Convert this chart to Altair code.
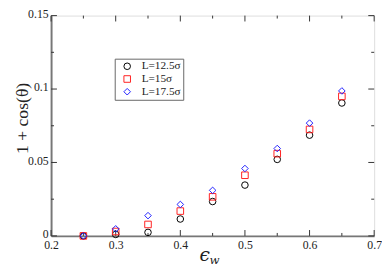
import altair as alt
import pandas as pd

# data
eps_w = [0.25, 0.30, 0.35, 0.40, 0.45, 0.50, 0.55, 0.60, 0.65]
L_12_5 = [0.0, 0.0010, 0.0024, 0.0115, 0.0234, 0.0346, 0.0521, 0.0686, 0.0905]
L_15 = [0.0, 0.0030, 0.0078, 0.0169, 0.0266, 0.0413, 0.0560, 0.0725, 0.0950]
L_17_5 = [0.0, 0.0048, 0.0138, 0.0214, 0.0310, 0.0459, 0.0595, 0.0768, 0.0987]
series_names = ["L=12.5σ", "L=15σ", "L=17.5σ"]

x_major = [0.2, 0.3, 0.4, 0.5, 0.6, 0.7]
x_minor = [0.25, 0.35, 0.45, 0.55, 0.65]
y_major = [0.0, 0.05, 0.10, 0.15]
y_minor = [0.025, 0.075, 0.125]

W, H = 330, 225
SERIF = "Liberation Serif"

rows = []
for name, vals in zip(series_names, [L_12_5, L_15, L_17_5]):
    for xv, yv in zip(eps_w, vals):
        rows.append({"eps": xv, "val": yv, "series": name})
df = pd.DataFrame(rows)

xscale = alt.Scale(domain=[0.2, 0.7], nice=False, zero=False)
yscale = alt.Scale(domain=[0.0, 0.15], nice=False, zero=False)

points = alt.Chart(df).mark_point(filled=False, strokeWidth=1, opacity=1).encode(
    x=alt.X("eps:Q", scale=xscale,
            axis=alt.Axis(values=x_major, ticks=False, grid=False, title=None,
                          format="~g", labelFont=SERIF, labelFontSize=12,
                          labelColor="#222", labelPadding=4, labelFlush=False,
                          domainColor="#777", domainWidth=2)),
    y=alt.Y("val:Q", scale=yscale,
            axis=alt.Axis(values=y_major, ticks=False, grid=False,
                          title="1 + cos(θ)", titleFont=SERIF, titleFontSize=18,
                          titleFontWeight="normal", titleColor="#222",
                          titlePadding=-4, titleY=H / 2 - 8, labelFlush=False,
                          labelOffset=-2,
                          format="~g", labelFont=SERIF, labelFontSize=12,
                          labelColor="#222", labelPadding=3,
                          domainColor="#777", domainWidth=2)),
    color=alt.Color("series:N", sort=series_names,
                    scale=alt.Scale(domain=series_names, range=["#000000", "#ff2020", "#2020ff"]),
                    legend=alt.Legend(title=None, orient="none", legendX=65, legendY=44,
                                      labelFont=SERIF, labelFontSize=11.5, labelColor="#222",
                                      strokeColor="#666", fillColor="white", padding=2,
                                      rowPadding=0, symbolStrokeWidth=1, symbolSize=45,
                                      symbolOffset=5, labelOffset=9)),
    shape=alt.Shape("series:N", sort=series_names,
                    scale=alt.Scale(domain=series_names, range=["circle", "square", "diamond"]),
                    legend=None),
    size=alt.Size("series:N", sort=series_names,
                  scale=alt.Scale(domain=series_names, range=[45, 45, 70]),
                  legend=None),
)

def tick_layer(vals, axis, length):
    d = pd.DataFrame({"t": vals})
    base = alt.Chart(d).mark_rule(color="#333", strokeWidth=1)
    if axis == "bottom":
        return base.encode(x=alt.X("t:Q", scale=xscale), y=alt.value(H), y2=alt.value(H - length))
    if axis == "top":
        return base.encode(x=alt.X("t:Q", scale=xscale), y=alt.value(0), y2=alt.value(length))
    if axis == "left":
        return base.encode(y=alt.Y("t:Q", scale=yscale), x=alt.value(0), x2=alt.value(length))
    return base.encode(y=alt.Y("t:Q", scale=yscale), x=alt.value(W), x2=alt.value(W - length))

ticks = []
for ax in ["bottom", "top"]:
    ticks.append(tick_layer(x_major, ax, 6))
    ticks.append(tick_layer(x_minor, ax, 3))
for ax in ["left", "right"]:
    ticks.append(tick_layer(y_major, ax, 6))
    ticks.append(tick_layer(y_minor, ax, 3))

eps_text = alt.Chart(pd.DataFrame({"s": ["ϵ"]})).mark_text(
    font="DejaVu Serif", fontSize=19, fontStyle="italic", color="#222", baseline="alphabetic"
).encode(text="s:N", x=alt.value(W / 2 - 8), y=alt.value(H + 26))
w_text = alt.Chart(pd.DataFrame({"s": ["w"]})).mark_text(
    font="DejaVu Serif", fontSize=12, fontStyle="italic", color="#222", baseline="alphabetic"
).encode(text="s:N", x=alt.value(W / 2 + 2), y=alt.value(H + 29))

chart = alt.layer(*ticks, points, eps_text, w_text).properties(
    width=W, height=H,
    autosize=alt.AutoSizeParams(type="none"),
    padding={"left": 44, "top": 5, "right": 8, "bottom": 29},
).configure_view(stroke="#111", strokeWidth=1.5).configure(background="white")

chart.save("out.html", embed_options={"renderer": "svg", "actions": False})
